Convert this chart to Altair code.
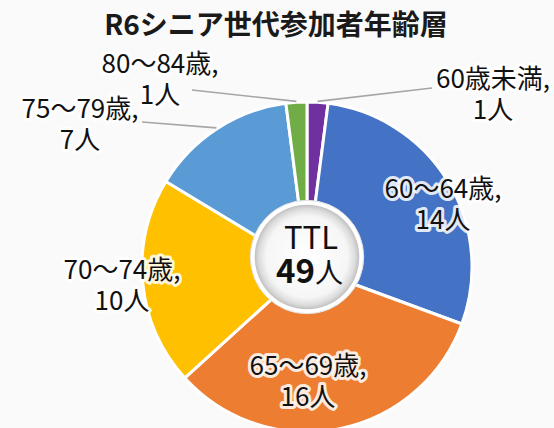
import math
import altair as alt
import pandas as pd

# ---- data ----
categories = ["60歳未満", "60～64歳", "65～69歳", "70～74歳", "75～79歳", "80～84歳"]
counts = [1, 14, 16, 10, 7, 1]
colors = ["#7030A0", "#4472C4", "#ED7D31", "#FFC000", "#5B9BD5", "#70AD47"]
unit = "人"
title_text = "R6シニア世代参加者年齢層"
total_caption = "TTL"

# ---- layout (pixels) ----
W, H = 554, 428
CX, CY, R = 307, 267, 165          # pie centre / radius
HX, HY, HR = 307, 257, 64          # centre badge
FONT = "Noto Sans CJK JP"
# label first-line centres
label_pos = {
    "60歳未満": (493, 80),
    "60～64歳": (443, 190),
    "65～69歳": (308, 367),
    "70～74歳": (122, 271),
    "75～79歳": (80, 110),
    "80～84歳": (160, 65),
}
# leader line outer ends for labels placed outside
leader_end = {
    "60歳未満": (432, 88),
    "75～79歳": (142, 122),
    "80～84歳": (192, 90),
}

total = sum(counts)
df = pd.DataFrame({"cat": categories, "n": counts, "order": list(range(len(categories)))})
df["label"] = [f"{c},\n{n}{unit}" for c, n in zip(categories, counts)]
df["lx"] = [label_pos[c][0] for c in categories]
df["ly"] = [label_pos[c][1] for c in categories]

# leader lines start at the outer edge of each slice's mid angle
rows = []
cum = 0
for c, n in zip(categories, counts):
    mid = (cum + n / 2) / total * 2 * math.pi
    cum += n
    if c in leader_end:
        sx = CX + (R + 1) * math.sin(mid)
        sy = CY - (R + 1) * math.cos(mid)
        ex, ey = leader_end[c]
        rows.append({"x": sx, "y": sy, "x2": ex, "y2": ey})
lines_df = pd.DataFrame(rows)

pie = alt.Chart(df).mark_arc(stroke="white", strokeWidth=3).encode(
    theta=alt.Theta("n:Q", stack=True),
    order=alt.Order("order:Q"),
    color=alt.Color("cat:N", scale=alt.Scale(domain=categories, range=colors), legend=None),
    x=alt.value(CX),
    y=alt.value(CY),
    radius=alt.value(R),
)

leaders = alt.Chart(lines_df).mark_rule(color="#a6a6a6", strokeWidth=1.6).encode(
    x=alt.X("x:Q", scale=None), y=alt.Y("y:Q", scale=None),
    x2="x2:Q", y2="y2:Q",
)

label_base = alt.Chart(df).encode(
    x=alt.X("lx:Q", scale=None), y=alt.Y("ly:Q", scale=None), text="label:N"
)
label_glow = label_base.mark_text(
    font=FONT, fontSize=26, lineBreak="\n", lineHeight=31, align="center", baseline="middle",
    stroke="white", strokeWidth=6, strokeOpacity=0.85, strokeJoin="round", fill="white",
)
labels = label_base.mark_text(
    font=FONT, fontSize=26, lineBreak="\n", lineHeight=31, align="center", baseline="middle",
    color="#111111",
)

one = pd.DataFrame({"d": [0]})
badge_outer = alt.Chart(one).mark_circle(
    size=math.pi * HR * HR, color="white", opacity=1, stroke="#e0e0e0", strokeWidth=1
).encode(x=alt.value(HX), y=alt.value(HY))
badge_inner = alt.Chart(one).mark_circle(
    size=math.pi * (HR - 5) ** 2,
    opacity=1,
    color=alt.Gradient(
        gradient="radial",
        stops=[
            alt.GradientStop(offset=0, color="#ffffff"),
            alt.GradientStop(offset=0.78, color="#f6f6f6"),
            alt.GradientStop(offset=0.92, color="#dcdcdc"),
            alt.GradientStop(offset=1, color="#c0c0c0"),
        ],
    ),
).encode(x=alt.value(HX), y=alt.value(HY))

ttl = alt.Chart(one).mark_text(
    text=total_caption, font=FONT, fontSize=31, color="#111111", align="center", baseline="middle"
).encode(x=alt.value(311), y=alt.value(240))
num = alt.Chart(one).mark_text(
    text=str(total), font=FONT, fontSize=33, fontWeight="bold", color="#111111",
    align="right", baseline="middle"
).encode(x=alt.value(315), y=alt.value(273))
num_unit = alt.Chart(one).mark_text(
    text=unit, font=FONT, fontSize=28, color="#111111", align="left", baseline="middle"
).encode(x=alt.value(315), y=alt.value(275))

title = alt.Chart(one).mark_text(
    text=title_text, font=FONT, fontSize=28, fontWeight="bold", color="#1a1a1a",
    align="center", baseline="middle"
).encode(x=alt.value(276), y=alt.value(27))

chart = alt.layer(
    pie, leaders, label_glow, labels, badge_outer, badge_inner, ttl, num, num_unit, title
).properties(
    width=W, height=H, autosize="none", padding=0, background="#fafafa"
).configure_view(stroke=None)

chart.save("out.html", embed_options={"renderer": "svg", "actions": False})
